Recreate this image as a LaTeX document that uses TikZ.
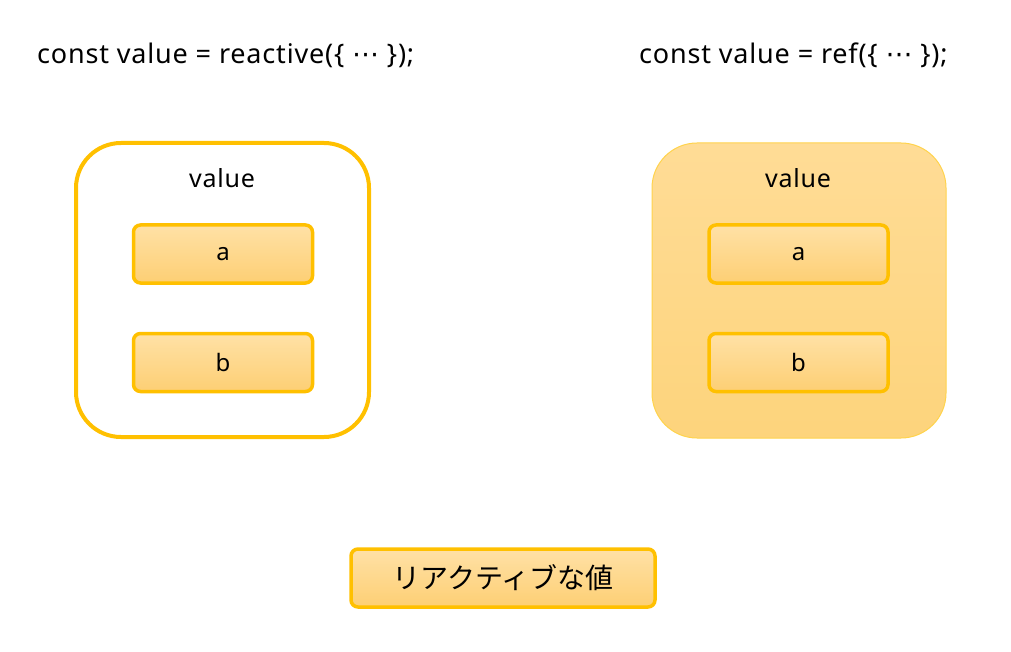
\documentclass[tikz,border=0pt]{standalone}
\usepackage{fontspec}
\setmainfont{Noto Sans}[LetterSpace=3]
\newfontfamily\jpfont{Noto Sans CJK JP}
\newfontfamily\symfont{DejaVu Sans}
\usetikzlibrary{positioning}
\definecolor{amber}{HTML}{FFC000}
\definecolor{paletop}{HTML}{FFE1A6}
\definecolor{palebot}{HTML}{FDCF74}
\definecolor{reftop}{HTML}{FFDC96}
\definecolor{refbot}{HTML}{FDD47C}
\tikzstyle{holder} = [draw=amber,line width=4pt,rounded corners=45pt,minimum width=293pt,minimum height=294pt,fill=white]
\tikzstyle{refholder} = [draw=amber!70,line width=1pt,rounded corners=45pt,minimum width=294pt,minimum height=295pt,top color=reftop,bottom color=refbot]
\tikzstyle{field} = [draw=amber,line width=3.5pt,rounded corners=7pt,minimum width=179pt,minimum height=58pt,top color=paletop,bottom color=palebot,font=\fontsize{24}{27}\selectfont]
\tikzstyle{code} = [anchor=west,inner sep=0,font=\fontsize{27}{32}\selectfont]
\tikzstyle{caption} = [inner sep=0,font=\fontsize{25}{28}\selectfont]
\def \gap {47pt}
\def \dots {{\symfont ⋯}}

\begin{document}
\begin{tikzpicture}[x=1pt,y=1pt]
      \useasboundingbox (0,0) rectangle (1011,-652);
      % reactive
      \node[code] (reactcode) at (37,-55.5) {const value = reactive(\{ \dots\ \});};
      \node[holder] (reactbox) at (222.5,-290) {};
      \node[caption] (reactname) at (222,-178) {value};
      \node[field] (reacta) at (223,-254) {a};
      \node[field,below=\gap of reacta] (reactb) {b};
      % ref
      \node[code] (refcode) at (639,-55.5) {const value = ref(\{ \dots\ \});};
      \node[refholder] (refbox) at (799,-290.5) {};
      \node[caption] (refname) at (798,-178) {value};
      \node[field] (refa) at (798.5,-254) {a};
      \node[field,below=\gap of refa] (refb) {b};
      % legend
      \node[field,minimum width=304pt,font=\jpfont\fontsize{28}{31}\selectfont] (legend) at (503,-578) {リアクティブな値};
    \end{tikzpicture}
\end{document}
